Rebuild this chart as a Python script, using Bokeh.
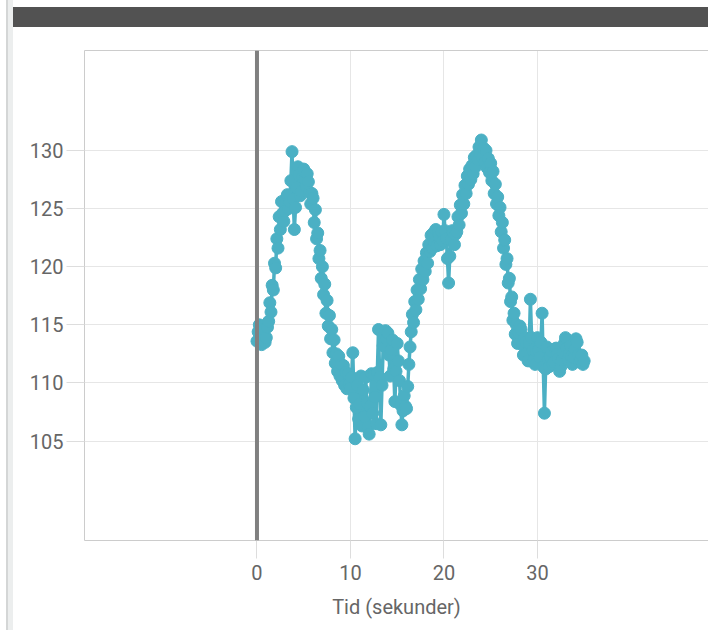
from bokeh.plotting import figure
from bokeh.models import Range1d, FixedTicker, Span, LinearAxis, Div, ColumnDataSource
from bokeh.layouts import row, column
from bokeh.embed import file_html
from bokeh.resources import INLINE

# --- data (time in seconds, value) ---
tid = [0.000, 0.125, 0.250, 0.375, 0.500, 0.625, 0.750, 0.875,
       1.000, 1.125, 1.250, 1.375, 1.500, 1.625, 1.750, 1.875,
       2.000, 2.125, 2.250, 2.375, 2.500, 2.625, 2.750, 2.875,
       3.000, 3.125, 3.250, 3.375, 3.500, 3.625, 3.750, 3.875,
       4.000, 4.125, 4.250, 4.375, 4.500, 4.625, 4.750, 4.875,
       5.000, 5.125, 5.250, 5.375, 5.500, 5.625, 5.750, 5.875,
       6.000, 6.125, 6.250, 6.375, 6.500, 6.625, 6.750, 6.875,
       7.000, 7.125, 7.250, 7.375, 7.500, 7.625, 7.750, 7.875,
       8.000, 8.125, 8.250, 8.375, 8.500, 8.625, 8.750, 8.875,
       9.000, 9.125, 9.250, 9.375, 9.500, 9.625, 9.750, 9.875,
       10.000, 10.125, 10.250, 10.375, 10.500, 10.625, 10.750, 10.875,
       11.000, 11.125, 11.250, 11.375, 11.500, 11.625, 11.750, 11.875,
       12.000, 12.125, 12.250, 12.375, 12.500, 12.625, 12.750, 12.875,
       13.000, 13.125, 13.250, 13.375, 13.500, 13.625, 13.750, 13.875,
       14.000, 14.125, 14.250, 14.375, 14.500, 14.625, 14.750, 14.875,
       15.000, 15.125, 15.250, 15.375, 15.500, 15.625, 15.750, 15.875,
       16.000, 16.125, 16.250, 16.375, 16.500, 16.625, 16.750, 16.875,
       17.000, 17.125, 17.250, 17.375, 17.500, 17.625, 17.750, 17.875,
       18.000, 18.125, 18.250, 18.375, 18.500, 18.625, 18.750, 18.875,
       19.000, 19.125, 19.250, 19.375, 19.500, 19.625, 19.750, 19.875,
       20.000, 20.125, 20.250, 20.375, 20.500, 20.625, 20.750, 20.875,
       21.000, 21.125, 21.250, 21.375, 21.500, 21.625, 21.750, 21.875,
       22.000, 22.125, 22.250, 22.375, 22.500, 22.625, 22.750, 22.875,
       23.000, 23.125, 23.250, 23.375, 23.500, 23.625, 23.750, 23.875,
       24.000, 24.125, 24.250, 24.375, 24.500, 24.625, 24.750, 24.875,
       25.000, 25.125, 25.250, 25.375, 25.500, 25.625, 25.750, 25.875,
       26.000, 26.125, 26.250, 26.375, 26.500, 26.625, 26.750, 26.875,
       27.000, 27.125, 27.250, 27.375, 27.500, 27.625, 27.750, 27.875,
       28.000, 28.125, 28.250, 28.375, 28.500, 28.625, 28.750, 28.875,
       29.000, 29.125, 29.250, 29.375, 29.500, 29.625, 29.750, 29.875,
       30.000, 30.125, 30.250, 30.375, 30.500, 30.625, 30.750, 30.875,
       31.000, 31.125, 31.250, 31.375, 31.500, 31.625, 31.750, 31.875,
       32.000, 32.125, 32.250, 32.375, 32.500, 32.625, 32.750, 32.875,
       33.000, 33.125, 33.250, 33.375, 33.500, 33.625, 33.750, 33.875,
       34.000, 34.125, 34.250, 34.375, 34.500, 34.625, 34.750, 34.875,
       35.000]
verdi = [113.6, 114.4, 115.0, 113.8, 113.3, 114.9, 114.6, 113.5,
         113.9, 114.8, 115.3, 116.9, 116.1, 118.4, 118.0, 120.3,
         119.9, 122.4, 121.6, 124.3, 123.2, 125.6, 124.6, 123.9,
         124.8, 125.9, 126.2, 125.0, 125.6, 127.4, 129.9, 125.8,
         123.2, 125.1, 126.8, 128.6, 127.9, 126.1, 126.5, 127.7,
         128.4, 127.5, 126.9, 128.0, 127.3, 126.4, 125.4, 126.3,
         125.9, 123.8, 124.9, 122.4, 122.9, 120.7, 121.4, 119.0,
         120.0, 117.6, 118.5, 116.0, 117.1, 114.9, 115.8, 113.8,
         114.6, 112.6, 113.7, 111.7, 112.5, 111.0, 112.3, 110.6,
         111.6, 110.2, 111.5, 109.8, 110.9, 109.5, 110.8, 109.9,
         109.6, 110.5, 112.6, 108.7, 105.2, 107.9, 109.8, 106.9,
         108.2, 110.6, 106.3, 109.4, 107.1, 110.5, 108.3, 106.2,
         105.6, 108.0, 110.8, 107.4, 110.7, 108.8, 106.5, 110.9,
         114.6, 110.5, 106.4, 109.8, 113.2, 114.1, 114.5, 113.8,
         114.3, 112.4, 110.6, 112.9, 113.7, 111.2, 108.4, 111.0,
         113.4, 111.9, 110.2, 108.1, 106.4, 107.6, 108.9, 108.0,
         107.8, 109.7, 111.6, 113.1, 114.4, 115.9, 115.2, 117.0,
         116.3, 118.0, 117.2, 118.9, 118.1, 119.8, 118.9, 120.5,
         119.6, 121.2, 120.3, 121.9, 121.3, 122.7, 121.6, 122.9,
         122.1, 123.2, 121.8, 122.9, 122.6, 121.9, 123.0, 122.2,
         124.5, 123.1, 122.4, 120.7, 118.6, 120.9, 122.3, 123.1,
         122.9, 121.9, 122.8, 123.0, 124.3, 123.6, 125.3, 124.6,
         126.2, 125.4, 127.0, 126.3, 127.8, 127.1, 128.4, 127.5,
         128.7, 128.0, 129.4, 128.6, 129.6, 129.2, 130.3, 129.7,
         130.9, 129.4, 130.2, 129.0, 130.0, 128.5, 129.3, 128.1,
         128.9, 127.4, 128.2, 126.3, 127.1, 125.4, 126.0, 124.4,
         125.1, 123.0, 123.8, 121.6, 122.3, 120.2, 120.7, 118.6,
         119.0, 117.0, 117.4, 115.4, 116.0, 114.2, 115.0, 113.4,
         114.3, 114.9, 114.6, 113.3, 112.4, 113.9, 113.5, 112.6,
         111.9, 113.4, 117.2, 113.9, 112.8, 112.0, 111.6, 112.7,
         113.9, 112.8, 112.2, 113.5, 116.0, 111.4, 107.4, 111.2,
         113.1, 112.0, 111.4, 112.3, 112.7, 111.6, 111.8, 112.9,
         113.0, 112.5, 112.1, 111.0, 111.4, 112.0, 112.6, 113.4,
         113.9, 113.0, 112.0, 112.5, 113.2, 112.3, 111.6, 112.2,
         112.9, 113.8, 113.5, 112.4, 111.8, 112.0, 112.4, 111.6,
         111.9]
x_ticks = [0, 10, 20, 30]
y_ticks = [105, 110, 115, 120, 125, 130]
x_label = "Tid (sekunder)"

TEAL = "#4bb0c4"
FONT = "Roboto"
TXT = "#666666"

src = ColumnDataSource(dict(x=tid, y=verdi))

p = figure(width=695, height=603, output_backend="svg", toolbar_location=None,
           x_range=Range1d(-18.45, 48.3), y_range=Range1d(96.45, 138.6),
           min_border_left=71, min_border_right=0, min_border_top=23, min_border_bottom=90,
           margin=0)
p.outline_line_color = None
p.background_fill_color = "white"
p.border_fill_color = "white"

for ax in (p.xaxis[0], p.yaxis[0]):
    ax.axis_line_color = "#cccccc"
    ax.major_tick_line_color = "#dddddd"
    ax.major_tick_in = 0
    ax.major_tick_out = 18
    ax.minor_tick_line_color = None
    ax.major_label_text_font = FONT
    ax.major_label_text_font_size = "20px"
    ax.major_label_text_color = TXT

p.xaxis.ticker = FixedTicker(ticks=x_ticks)
p.yaxis.ticker = FixedTicker(ticks=y_ticks)
p.xaxis.major_label_standoff = 6
p.yaxis.major_label_standoff = 3
p.xaxis.axis_label = x_label
p.xaxis.axis_label_text_font = FONT
p.xaxis.axis_label_text_font_size = "20px"
p.xaxis.axis_label_text_font_style = "normal"
p.xaxis.axis_label_text_color = TXT
p.xaxis.axis_label_standoff = 12

top = LinearAxis(ticker=FixedTicker(ticks=[]), axis_line_color="#cccccc",
                 major_tick_line_color=None, minor_tick_line_color=None,
                 major_label_text_font_size="0px")
p.add_layout(top, "above")

p.xgrid.ticker = FixedTicker(ticks=x_ticks)
p.ygrid.ticker = FixedTicker(ticks=y_ticks)
p.xgrid.grid_line_color = "#e6e6e6"
p.ygrid.grid_line_color = "#e6e6e6"

p.add_layout(Span(location=0, dimension="height", line_color="#808080", line_width=4))

p.line("x", "y", source=src, line_color=TEAL, line_width=3.5)
p.scatter("x", "y", source=src, size=12, fill_color=TEAL, line_color=TEAL)

bar = Div(text="", width=695, height=20, margin=(7, 0, 0, 0),
          styles={"background-color": "#525252"})
strip = Div(text="", width=13, height=630, margin=0,
            styles={"background": "linear-gradient(to right, #ffffff 0px, #ffffff 6px, "
                                  "#d4d6d6 6px, #d4d6d6 8px, #eceeee 8px, #eceeee 13px)"})

layout = row(strip, column(bar, p, margin=0, spacing=0), margin=0, spacing=0)

open("out.html", "w").write(file_html(layout, INLINE))
